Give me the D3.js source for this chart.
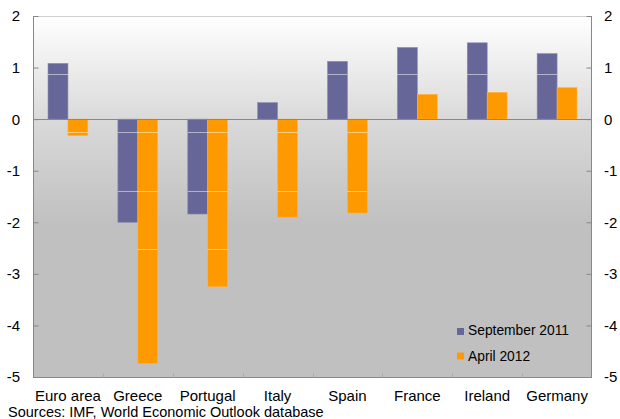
<!DOCTYPE html>
<html><head><meta charset="utf-8">
<script src="https://cdn.jsdelivr.net/npm/d3@7/dist/d3.min.js"></script>
<style>body{margin:0;background:#fff}svg{display:block;font-family:"Liberation Sans",Arial,sans-serif}</style>
</head><body><svg id="c" width="620" height="419"></svg>
<script>
const categories = ["Euro area","Greece","Portugal","Italy","Spain","France","Ireland","Germany"];
const seriesNames = ["September 2011","April 2012"];
const sep2011 = [1.08,-2.0,-1.84,0.32,1.12,1.39,1.48,1.27];
const apr2012 = [-0.32,-4.74,-3.25,-1.9,-1.82,0.48,0.52,0.61];
const yTicks = [2,1,0,-1,-2,-3,-4,-5];
const colors = ["#666699","#ff9900"];
const bandLines = [0.87,-0.25,-1.39,-2.51];

const svg = d3.select("#c");
const L=33, R=592, T=16, B=377;
const x = d3.scaleBand().domain(categories).range([L,R]).paddingInner(0.43).paddingOuter(0.215);
const xs = d3.scaleBand().domain(seriesNames).range([0,x.bandwidth()]);
const y = d3.scaleLinear().domain([-5,2]).range([B,T]);

const defs = svg.append("defs");
const g = defs.append("linearGradient").attr("id","bg").attr("x1",0).attr("y1",0).attr("x2",0).attr("y2",1);
g.append("stop").attr("offset","0%").attr("stop-color","#ffffff");
g.append("stop").attr("offset","29%").attr("stop-color","#d9d9d9");
g.append("stop").attr("offset","58%").attr("stop-color","#c0c0c0");
g.append("stop").attr("offset","100%").attr("stop-color","#c0c0c0");
svg.append("rect").attr("x",L).attr("y",T).attr("width",R-L).attr("height",B-T).attr("fill","url(#bg)");
svg.append("line").attr("x1",L).attr("x2",R).attr("y1",T+0.5).attr("y2",T+0.5).attr("stroke","#d0d0d0");

const data = categories.map((c,i)=>({c, vals:[sep2011[i],apr2012[i]]}));
const bars = [];
data.forEach(d=>d.vals.forEach((v,j)=>bars.push({c:d.c,s:seriesNames[j],v,j})));
const bg = svg.append("g");
bg.selectAll("rect").data(bars).join("rect")
  .attr("x",d=>x(d.c)+xs(d.s)).attr("width",xs.bandwidth())
  .attr("y",d=>y(Math.max(0,d.v))).attr("height",d=>Math.abs(y(d.v)-y(0)))
  .attr("fill",d=>colors[d.j]).attr("stroke",d=>d.j?"#ffb347":"#8a8ab0").attr("stroke-width",0.6);
bars.forEach(d=>{
  bandLines.forEach(bl=>{
    const lo=Math.min(0,d.v), hi=Math.max(0,d.v);
    if(bl>lo && bl<hi){
      svg.append("line").attr("x1",x(d.c)+xs(d.s)).attr("x2",x(d.c)+xs(d.s)+xs.bandwidth())
        .attr("y1",Math.round(y(bl))+0.5).attr("y2",Math.round(y(bl))+0.5)
        .attr("stroke","#ffffff").attr("stroke-opacity",0.5).attr("stroke-width",1);
    }
  });
});

svg.append("line").attr("x1",L).attr("x2",R).attr("y1",Math.round(y(0))+0.5).attr("y2",Math.round(y(0))+0.5).attr("stroke","#888");

const yl = svg.append("g").attr("transform",`translate(${L+0.5},0)`).call(d3.axisRight(y).tickValues(yTicks).tickSize(5).tickFormat(""));
const yr = svg.append("g").attr("transform",`translate(${R-0.5},0)`).call(d3.axisLeft(y).tickValues(yTicks).tickSize(5).tickFormat(""));
[yl,yr].forEach(a=>{a.select(".domain").attr("stroke","#888").attr("d",`M0,${T}V${B}`);a.selectAll(".tick line").attr("stroke","#888");});
const bounds = categories.map(c=>x(c)-x.step()*x.paddingInner()/2).slice(1);
const xa = svg.append("g").attr("transform",`translate(0,${B+0.5})`);
xa.append("line").attr("x1",L).attr("x2",R).attr("stroke","#888");
xa.selectAll(".bt").data(bounds).join("line").attr("x1",d=>Math.round(d)+0.5).attr("x2",d=>Math.round(d)+0.5).attr("y1",0).attr("y2",-4).attr("stroke","#aaa");

svg.append("g").selectAll("text").data(yTicks).join("text").attr("x",20).attr("y",d=>y(d)).attr("dy","0.36em")
  .attr("text-anchor","end").attr("font-size",15).attr("fill","#000").text(d=>d);
svg.append("g").selectAll("text").data(yTicks).join("text").attr("x",604).attr("y",d=>y(d)).attr("dy","0.36em")
  .attr("text-anchor","start").attr("font-size",15).attr("fill","#000").text(d=>d);
svg.append("g").selectAll("text").data(categories).join("text").attr("x",d=>x(d)+x.bandwidth()/2).attr("y",401)
  .attr("text-anchor","middle").attr("font-size",15).attr("fill","#000").text(d=>d);
svg.append("text").attr("x",8).attr("y",416.5).attr("font-size",14.5).attr("fill","#000").text("Sources: IMF, World Economic Outlook database");

const lg = svg.append("g");
seriesNames.forEach((s,i)=>{
  lg.append("rect").attr("x",457).attr("y",328+i*24.5).attr("width",7).attr("height",7).attr("fill",colors[i]);
  lg.append("text").attr("x",468).attr("y",335+i*25.5).attr("font-size",13.8).attr("fill","#000").text(s);
});
</script></body></html>
